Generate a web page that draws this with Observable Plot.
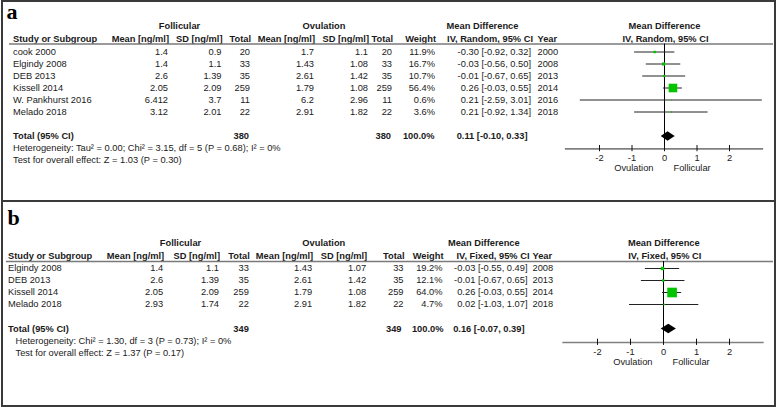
<!DOCTYPE html>
<html><head><meta charset="utf-8">
<script src="https://cdn.jsdelivr.net/npm/d3@7"></script>
<script src="https://cdn.jsdelivr.net/npm/@observablehq/plot@0.6"></script>
<style>
body{margin:0;background:#fff;}
#wrap{position:relative;width:777px;height:407px;overflow:hidden;background:#fff;}
.panel{position:absolute;left:0;}
.panel svg{display:block;}
#box{position:absolute;left:1px;top:0;width:775px;height:407px;border:2px solid #3a3a3a;box-sizing:border-box;pointer-events:none;}
#sep{position:absolute;left:1px;top:200px;width:775px;height:2px;background:#3a3a3a;}
</style></head>
<body><div id="wrap"><div class="panel" id="pa" style="top:0"></div><div class="panel" id="pb" style="top:200px"></div><div id="box"></div><div id="sep"></div></div>
<script>
// ---------- DATA: panel a (random effects) ----------
const studiesA = ["cook 2000","Elgindy 2008","DEB 2013","Kissell 2014","W. Pankhurst 2016","Melado 2018"];
const follMeanA = [1.4, 1.4, 2.6, 2.05, 6.412, 3.12];
const follSdA   = [0.9, 1.1, 1.39, 2.09, 3.7, 2.01];
const follNA    = [20, 33, 35, 259, 11, 22];
const ovMeanA   = [1.7, 1.43, 2.61, 1.79, 6.2, 2.91];
const ovSdA     = [1.1, 1.08, 1.42, 1.08, 2.96, 1.82];
const ovNA      = [20, 33, 35, 259, 11, 22];
const weightA   = [11.9, 16.7, 10.7, 56.4, 0.6, 3.6];
const mdA       = [-0.30, -0.03, -0.01, 0.26, 0.21, 0.21];
const lowA      = [-0.92, -0.56, -0.67, -0.03, -2.59, -0.92];
const highA     = [0.32, 0.50, 0.65, 0.55, 3.01, 1.34];
const yearA     = [2000, 2008, 2013, 2014, 2016, 2018];
const totalNA   = [380, 380];          // follicular, ovulation
const totalMdA  = [0.11, -0.10, 0.33]; // estimate, low, high
const hetA  = "Heterogeneity: Tau² = 0.00; Chi² = 3.15, df = 5 (P = 0.68); I² = 0%";
const testA = "Test for overall effect: Z = 1.03 (P = 0.30)";

// ---------- DATA: panel b (fixed effect) ----------
const studiesB = ["Elgindy 2008","DEB 2013","Kissell 2014","Melado 2018"];
const follMeanB = [1.4, 2.6, 2.05, 2.93];
const follSdB   = [1.1, 1.39, 2.09, 1.74];
const follNB    = [33, 35, 259, 22];
const ovMeanB   = [1.43, 2.61, 1.79, 2.91];
const ovSdB     = [1.07, 1.42, 1.08, 1.82];
const ovNB      = [33, 35, 259, 22];
const weightB   = [19.2, 12.1, 64.0, 4.7];
const mdB       = [-0.03, -0.01, 0.26, 0.02];
const lowB      = [-0.55, -0.67, -0.03, -1.03];
const highB     = [0.49, 0.65, 0.55, 1.07];
const yearB     = [2008, 2013, 2014, 2018];
const totalNB   = [349, 349];
const totalMdB  = [0.16, -0.07, 0.39];
const hetB  = "Heterogeneity: Chi² = 1.30, df = 3 (P = 0.73); I² = 0%";
const testB = "Test for overall effect: Z = 1.37 (P = 0.17)";

// ---------- shared labels ----------
const groupLabels = ["Follicular", "Ovulation", "Mean Difference"];
const colHeaders = ["Study or Subgroup","Mean [ng/ml]","SD [ng/ml]","Total","Mean [ng/ml]","SD [ng/ml]","Total","Weight"];
const axisTicks = [-2, -1, 0, 1, 2];
const sideLabels = ["Ovulation", "Follicular"];

// ---------- LAYOUT ----------
const FONT = "'Liberation Sans', Arial, Helvetica, sans-serif";
const FS = 9.3;
const INK = "#1a1a1a";
const GREEN = "#00c400";

const layoutA = {
  label: "a", method: "IV, Random, 95% CI", height: 201, y0: 51.5, rowH: 12,
  r: {label: -3.3, group: -2.2, head: -1.1, line: -0.667, total: 7.04, het: 8.04, test: 9.04, axis: 8.07, tick: 8.8, side: 9.7},
  zero: 664, unit: 32.5,
  cols: [12.5, 167.5, 221, 249.5, 313.5, 367.5, 391.5, 434.5, 530.5, 537],
  note: 12.5, lblX: 6,
  totalCols: [248.5, 390.5, 434, 527],
  groups: [179, 323.5, 482], plotHead: 664,
  inset: [9, 4]
};
const layoutB = {
  label: "b", method: "IV, Fixed, 95% CI", height: 207, y0: 68, rowH: 12,
  r: {label: -4.2, group: -2.125, head: -1.025, line: -0.583, total: 5.04, het: 6.08, test: 7.08, axis: 6.17, tick: 6.95, side: 7.8},
  zero: 663, unit: 33,
  cols: [7.5, 162.7, 218.5, 248.3, 311.7, 365.7, 403, 442, 527, 532],
  note: 15, lblX: 7,
  totalCols: [248.3, 401, 443, 524],
  groups: [180, 323.3, 483.3], plotHead: 663.3,
  inset: [6, 4]
};

function panel(D, L) {
  const rows = D.studies.map((s, i) => ({
    i, s, fm: D.fm[i], fs: D.fs[i], fn: D.fn[i], om: D.om[i], os: D.os[i], on: D.on[i],
    w: D.w[i], md: D.md[i], lo: D.lo[i], hi: D.hi[i], yr: D.yr[i]
  }));
  const ci = (m, l, h) => `${m.toFixed(2)} [${l.toFixed(2)}, ${h.toFixed(2)}]`;
  const C = L.cols;
  const base = {frameAnchor: "left", fontSize: FS, fill: INK, fontFamily: FONT};
  const T = (txt, row, x, anchor, extra = {}) =>
    Plot.text([txt], {...base, text: d => d, y: () => row, dx: x, textAnchor: anchor, ...extra});
  const bold = {fontWeight: "bold"};

  const colFns = [
    [d => d.s, "start"], [d => String(d.fm), "end"], [d => String(d.fs), "end"], [d => String(d.fn), "end"],
    [d => String(d.om), "end"], [d => String(d.os), "end"], [d => String(d.on), "end"],
    [d => d.w.toFixed(1) + "%", "end"], [d => ci(d.md, d.lo, d.hi), "end"], [d => String(d.yr), "start"]
  ];

  const tm = D.total;
  const h = 0.4;
  const diamond = [
    {x: tm[1], y1: L.r.total, y2: L.r.total},
    {x: tm[0], y1: L.r.total - h, y2: L.r.total + h},
    {x: tm[2], y1: L.r.total, y2: L.r.total}
  ];
  const xMin = -3.05, xMax = 3.05;

  const marks = [
    // panel letter
    Plot.text([L.label], {frameAnchor: "left", text: d => d, y: () => L.r.label, dx: L.lblX, textAnchor: "start",
      fontFamily: "'Liberation Serif', 'Times New Roman', serif", fontWeight: "bold", fontSize: 22, fill: "#000"}),
    // group headers
    T(groupLabels[0], L.r.group, L.groups[0], "middle", bold),
    T(groupLabels[1], L.r.group, L.groups[1], "middle", bold),
    T(groupLabels[2], L.r.group, L.groups[2], "middle", bold),
    T(groupLabels[2], L.r.group, L.plotHead, "middle", bold),
    // column headers
    ...colHeaders.map((hd, k) => T(hd, L.r.head, k === 0 ? C[0] : C[k] + 1, k === 0 ? "start" : "end", bold)),
    T(L.method, L.r.head, C[8] + 2, "end", bold),
    T("Year", L.r.head, C[9], "start", bold),
    T(L.method, L.r.head, L.plotHead + 1, "middle", bold),
    // header underline
    Plot.ruleY([L.r.line], {stroke: "#7a7a7a", strokeWidth: 1.5, insetLeft: L.inset[0], insetRight: L.inset[1]}),
    // table body
    ...colFns.map(([fn, anchor], k) =>
      Plot.text(rows, {...base, y: "i", text: fn, dx: C[k], textAnchor: anchor})),
    // totals
    T("Total (95% CI)", L.r.total, C[0], "start", bold),
    T(String(D.totalN[0]), L.r.total, L.totalCols[0], "end", bold),
    T(String(D.totalN[1]), L.r.total, L.totalCols[1], "end", bold),
    T("100.0%", L.r.total, L.totalCols[2], "end", bold),
    T(ci(tm[0], tm[1], tm[2]), L.r.total, L.totalCols[3], "end", bold),
    T(D.het, L.r.het, L.note, "start"),
    T(D.test, L.r.test, L.note, "start"),
    // forest plot
    Plot.ruleX([0], {y1: () => L.r.line, y2: () => L.r.axis, stroke: "#000", strokeWidth: 1}),
    Plot.ruleY(rows, {y: "i", x1: "lo", x2: "hi", stroke: "#222", strokeWidth: 1}),
    Plot.dot(rows, {x: "md", y: "i", r: "w", symbol: "square", fill: GREEN, stroke: "none"}),
    Plot.areaY(diamond, {x: "x", y1: "y1", y2: "y2", fill: "#000", curve: "linear"}),
    Plot.ruleY([L.r.axis], {x1: () => xMin, x2: () => xMax, stroke: "#808080", strokeWidth: 1.6}),
    Plot.ruleX(axisTicks, {x: d => d, y1: () => L.r.axis - 0.28, y2: () => L.r.axis + 0.24, stroke: "#111", strokeWidth: 1}),
    Plot.text(axisTicks, {x: d => d, y: () => L.r.tick, text: d => String(d), fontSize: FS, fill: INK, fontFamily: FONT}),
    Plot.text([sideLabels[0]], {x: () => 0, y: () => L.r.side, text: d => d, dx: -11, textAnchor: "end", fontSize: FS, fill: INK, fontFamily: FONT}),
    Plot.text([sideLabels[1]], {x: () => 0, y: () => L.r.side, text: d => d, dx: 9, textAnchor: "start", fontSize: FS, fill: INK, fontFamily: FONT})
  ];

  return Plot.plot({
    width: 777, height: L.height, margin: 0,
    style: {background: "transparent", fontFamily: FONT, fontSize: FS + "px", overflow: "visible"},
    x: {axis: null, domain: [xMin, xMax], range: [L.zero + xMin * L.unit, L.zero + xMax * L.unit]},
    y: {axis: null, domain: [0, 1], range: [L.y0, L.y0 + L.rowH]},
    r: {type: "linear", domain: [0, 100], range: [0.45, 8.25]},
    marks
  });
}

const dataA = {studies: studiesA, fm: follMeanA, fs: follSdA, fn: follNA, om: ovMeanA, os: ovSdA, on: ovNA,
  w: weightA, md: mdA, lo: lowA, hi: highA, yr: yearA, totalN: totalNA, total: totalMdA, het: hetA, test: testA};
const dataB = {studies: studiesB, fm: follMeanB, fs: follSdB, fn: follNB, om: ovMeanB, os: ovSdB, on: ovNB,
  w: weightB, md: mdB, lo: lowB, hi: highB, yr: yearB, totalN: totalNB, total: totalMdB, het: hetB, test: testB};

document.getElementById("pa").appendChild(panel(dataA, layoutA));
document.getElementById("pb").appendChild(panel(dataB, layoutB));
</script>
</body></html>
